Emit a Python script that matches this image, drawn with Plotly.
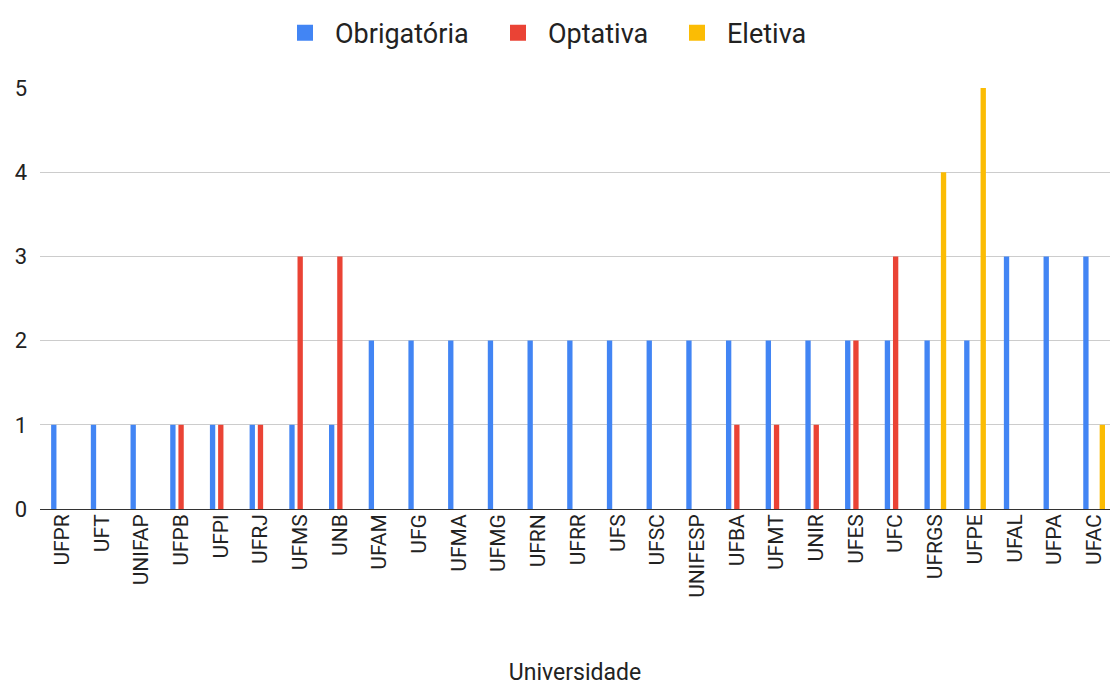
import plotly.graph_objects as go

universidades = ["UFPR", "UFT", "UNIFAP", "UFPB", "UFPI", "UFRJ", "UFMS", "UNB", "UFAM", "UFG",
                 "UFMA", "UFMG", "UFRN", "UFRR", "UFS", "UFSC", "UNIFESP", "UFBA", "UFMT", "UNIR",
                 "UFES", "UFC", "UFRGS", "UFPE", "UFAL", "UFPA", "UFAC"]
obrigatoria = [1, 1, 1, 1, 1, 1, 1, 1, 2, 2, 2, 2, 2, 2, 2, 2, 2, 2, 2, 2, 2, 2, 2, 2, 3, 3, 3]
optativa    = [0, 0, 0, 1, 1, 1, 3, 3, 0, 0, 0, 0, 0, 0, 0, 0, 0, 1, 1, 1, 2, 3, 0, 0, 0, 0, 0]
eletiva     = [0, 0, 0, 0, 0, 0, 0, 0, 0, 0, 0, 0, 0, 0, 0, 0, 0, 0, 0, 0, 0, 0, 4, 5, 0, 0, 1]
y_ticks = [0, 1, 2, 3, 4, 5]

series = [("Obrigatória", obrigatoria, "#4285F4", "legend"),
          ("Optativa", optativa, "#EA4335", "legend2"),
          ("Eletiva", eletiva, "#FBBC04", "legend3")]
legend_x = {"legend": 275, "legend2": 488, "legend3": 667}

FONT = "Roboto, Arial, sans-serif"
L, R, T, B = 40, 0, 88, 177
W, H = 1110, 686
fig = go.Figure()
for name, vals, color, lg in series:
    fig.add_trace(go.Bar(x=universidades, y=vals, name=name, marker_color=color,
                         marker_line_width=0, showlegend=False))
for name, vals, color, lg in series:
    fig.add_trace(go.Scatter(x=[None], y=[None], mode="markers", name=name, legend=lg,
                             marker=dict(symbol="square", size=18, color=color)))

legends = {}
for lg, px in legend_x.items():
    legends[lg] = dict(orientation="h", x=(px - L) / (W - L - R), xanchor="left",
                       y=1.13, yanchor="middle", itemwidth=50,
                       font=dict(size=27, color="#222222"), bgcolor="rgba(0,0,0,0)")

fig.update_layout(
    width=W, height=H,
    margin=dict(l=L, r=R, t=T, b=B),
    paper_bgcolor="white", plot_bgcolor="white",
    barmode="group", bargap=0.38, bargroupgap=0.35,
    font=dict(family=FONT, size=21, color="#222222"),
    xaxis=dict(type="category", range=[-0.554, 26.4], showgrid=False,
               tickangle=-90, tickfont=dict(size=21, color="#222222"),
               title=dict(text="Universidade", font=dict(size=23, color="#222222"), standoff=68),
               showline=False, ticks="", automargin=False),
    yaxis=dict(range=[0, 5], tickvals=y_ticks, showgrid=True, gridcolor="#cccccc",
               zeroline=True, zerolinecolor="#333333", zerolinewidth=1,
               tickfont=dict(size=22, color="#222222"), ticklabelstandoff=12,
               showline=False, ticks="", automargin=False),
    **legends,
)
fig.write_html("out.html")
